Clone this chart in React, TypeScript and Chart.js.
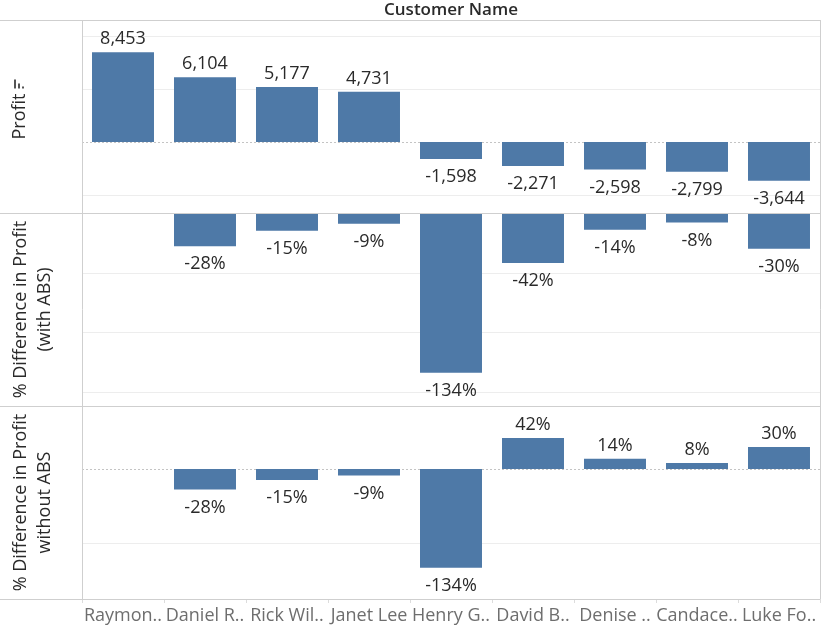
import React, { useEffect, useRef } from "react";
import { Chart, registerables } from "chart.js";

Chart.register(...registerables);

const customers = ["Raymon..", "Daniel R..", "Rick Wil..", "Janet Lee", "Henry G..", "David B..", "Denise ..", "Candace..", "Luke Fo.."];
const profit = [8453, 6104, 5177, 4731, -1598, -2271, -2598, -2799, -3644];
const pctDiffWithAbs = [null, -28, -15, -9, -134, -42, -14, -8, -30];
const pctDiffWithoutAbs = [null, -28, -15, -9, -134, 42, 14, 8, 30];

const profitGrid = [-5000, 5000, 10000];
const withAbsGrid = [-50, -100, -150];
const withoutAbsGrid = [-100];

const panelTitles = [["Profit"], ["% Difference in Profit", "(with ABS)"], ["% Difference in Profit", "without ABS"]];
const axisTitle = "Customer Name";

const FONT = '"Open Sans", "Noto Sans", sans-serif';
const BAR = "#4e79a7";
const BORDER = "#cfcfcf";
const GRID = "#ededed";
const TEXT = "#2a2a2a";

const overlay = {
  id: "overlay",
  beforeDatasetsDraw(chart: any) {
    const { ctx, chartArea: ca } = chart;
    const scales = [chart.scales.y1, chart.scales.y2, chart.scales.y3];
    const grids = [profitGrid, withAbsGrid, withoutAbsGrid];
    ctx.save();
    scales.forEach((s: any, i: number) => {
      ctx.strokeStyle = GRID;
      ctx.lineWidth = 1;
      ctx.setLineDash([]);
      grids[i].forEach((v) => {
        const y = Math.round(s.getPixelForValue(v)) + 0.5;
        ctx.beginPath();
        ctx.moveTo(ca.left, y);
        ctx.lineTo(ca.right, y);
        ctx.stroke();
      });
      const z = s.getPixelForValue(0);
      if (z > s.top + 2 && z < s.bottom - 2) {
        const y = Math.round(z) + 0.5;
        ctx.strokeStyle = "#c4c4c4";
        ctx.setLineDash([2, 2]);
        ctx.beginPath();
        ctx.moveTo(ca.left, y);
        ctx.lineTo(ca.right, y);
        ctx.stroke();
        ctx.setLineDash([]);
      }
    });
    ctx.restore();
  },
  afterDatasetsDraw(chart: any) {
    const { ctx, chartArea: ca } = chart;
    const scales = [chart.scales.y1, chart.scales.y2, chart.scales.y3];
    ctx.save();
    // value labels
    ctx.font = `18px ${FONT}`;
    ctx.fillStyle = TEXT;
    ctx.textAlign = "center";
    ctx.textBaseline = "alphabetic";
    chart.data.datasets.forEach((ds: any, di: number) => {
      const meta = chart.getDatasetMeta(di);
      meta.data.forEach((el: any, i: number) => {
        const v = ds.data[i];
        if (v === null || v === undefined) return;
        const txt = di === 0 ? v.toLocaleString("en-US") : `${v}%`;
        const y = v >= 0 ? el.y - 8 : el.y + 23;
        ctx.fillText(txt, el.x, y);
      });
    });

    // borders
    ctx.strokeStyle = BORDER;
    ctx.lineWidth = 1;
    const hLine = (y: number, x0: number, x1: number) => {
      const yy = Math.round(y) + 0.5;
      ctx.beginPath();
      ctx.moveTo(x0, yy);
      ctx.lineTo(x1, yy);
      ctx.stroke();
    };
    const vLine = (x: number, y0: number, y1: number) => {
      const xx = Math.round(x) + 0.5;
      ctx.beginPath();
      ctx.moveTo(xx, y0);
      ctx.lineTo(xx, y1);
      ctx.stroke();
    };
    hLine(ca.top, 0, ca.right);
    scales.forEach((s: any) => hLine(s.bottom, 0, ca.right));
    vLine(ca.left, ca.top, ca.bottom);
    vLine(ca.right, ca.top, ca.bottom);

    // top title
    ctx.fillStyle = TEXT;
    ctx.font = `600 17px ${FONT}`;
    ctx.textAlign = "center";
    ctx.textBaseline = "middle";
    ctx.fillText(axisTitle, (ca.left + ca.right) / 2, 10);

    // panel titles (rotated)
    ctx.font = `18px ${FONT}`;
    scales.forEach((s: any, i: number) => {
      const lines = panelTitles[i];
      const cy = (s.top + s.bottom) / 2;
      const cx = lines.length === 1 ? 20 : 33;
      ctx.save();
      ctx.translate(cx, cy);
      ctx.rotate(-Math.PI / 2);
      ctx.textAlign = "center";
      ctx.textBaseline = "middle";
      lines.forEach((t, li) => {
        const off = lines.length === 1 ? 0 : (li === 0 ? -12 : 12);
        ctx.fillText(t, 0, off);
      });
      if (i === 0) {
        // sort indicator icon after the text
        const w = ctx.measureText(lines[0]).width;
        ctx.fillStyle = "#555555";
        const x0 = w / 2 + 5;
        const heights = [9, 5, 2];
        heights.forEach((h, k) => {
          ctx.fillRect(x0, -6 + k * 4, h, 2);
        });
      }
      ctx.restore();
    });
    ctx.restore();
  },
};

export default function App() {
  const ref = useRef<HTMLCanvasElement | null>(null);
  useEffect(() => {
    if (!ref.current) return;
    const yCommon = (min: number, max: number, weight: number) => ({
      type: "linear" as const,
      position: "left" as const,
      stack: "panels",
      stackWeight: 1,
      weight,
      min,
      max,
      ticks: { display: false },
      grid: { display: false },
      border: { display: false },
      afterFit: (s: any) => {
        s.width = 82;
      },
    });
    const common = {
      backgroundColor: BAR,
      grouped: false,
      categoryPercentage: 1,
      barPercentage: 0.756,
    };
    const chart = new Chart(ref.current, {
      type: "bar",
      data: {
        labels: customers,
        datasets: [
          { ...common, label: "Profit", data: profit, yAxisID: "y1" },
          { ...common, label: "% Difference in Profit (with ABS)", data: pctDiffWithAbs, yAxisID: "y2" },
          { ...common, label: "% Difference in Profit without ABS", data: pctDiffWithoutAbs, yAxisID: "y3" },
        ],
      },
      options: {
        animation: false,
        responsive: true,
        maintainAspectRatio: false,
        layout: { padding: { top: 20, right: 13, left: 0, bottom: 0 } },
        plugins: { legend: { display: false }, tooltip: { enabled: false } },
        scales: {
          x: {
            type: "category",
            grid: { display: true, drawOnChartArea: false, drawTicks: true, tickLength: 4, color: "#dcdcdc", offset: true },
            border: { display: false },
            ticks: { font: { family: FONT, size: 18 }, color: "#6e6e6e", maxRotation: 0, minRotation: 0, autoSkip: false, padding: 2 },
            afterFit: (s: any) => {
              s.height = 42;
            },
          },
          y1: yCommon(-6690, 11500, 3),
          y2: yCommon(-162, 0, 2),
          y3: yCommon(-176.5, 85.5, 1),
        } as any,
      },
      plugins: [overlay],
    } as any);
    return () => chart.destroy();
  }, []);
  return (
    <div style={{ position: "fixed", left: 0, top: 0, width: 833, height: 641, background: "#fff" }}>
      <canvas ref={ref} />
    </div>
  );
}
